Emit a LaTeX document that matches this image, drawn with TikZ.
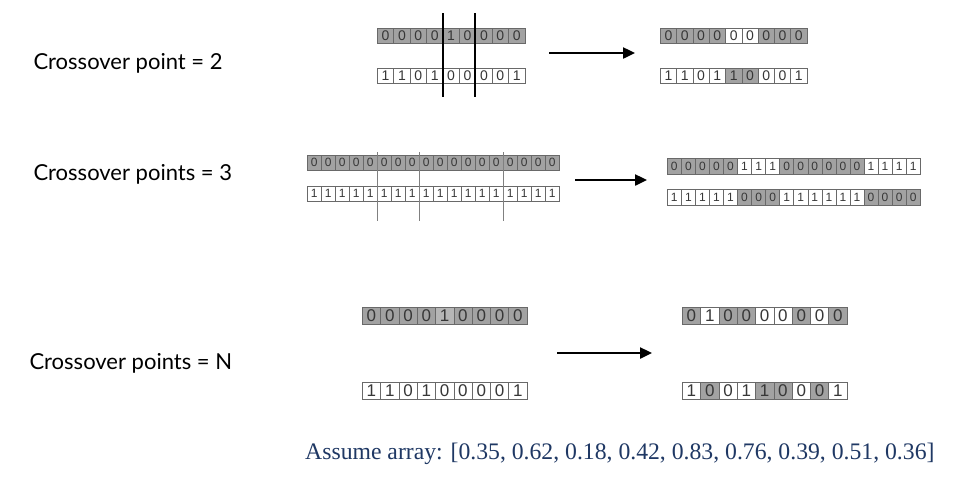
\documentclass[tikz,border=0pt]{standalone}
\usepackage{fontspec}
\setmainfont{Liberation Serif}
\setsansfont{Lato}
\newfontfamily\cellfont{Liberation Sans}
\usetikzlibrary{calc, positioning, arrows.meta}
\definecolor{dk}{RGB}{162, 162, 162}
\definecolor{md}{RGB}{182, 182, 182}
\colorlet{lt}{white}
\definecolor{geneEdge}{RGB}{105, 105, 105}
\definecolor{geneText}{RGB}{55, 55, 55}
\definecolor{noteBlue}{RGB}{31, 56, 100}

% one chromosome: name, x, y, cell width, cell height, list of bit/colour
\newcommand{\chromrow}[7][]{%
  \foreach \v/\c [count=\i] in {#7} {
    \node[gene, fill=\c, minimum width=#5pt, minimum height=#6pt, #1]
      (#2-\i) at ({#3+(\i-1)*#5}, #4) {\v};
  }}

\tikzset{
  gene/.style={draw=geneEdge, line width=0.6pt, inner sep=0pt, anchor=north west,
    font=\cellfont\fontsize{14}{14}\selectfont, text=geneText},
  caption/.style={anchor=west, font=\sffamily\fontsize{22}{26}\selectfont},
  cut/.style={line width=1.6pt, black},
  thincut/.style={line width=0.6pt, gray},
  move/.style={line width=2.4pt, -{Triangle[length=12pt, width=11pt]}}
}

\begin{document}
\begin{tikzpicture}[x=1pt, y=-1pt]
  \useasboundingbox[fill=white] (0,0) rectangle (972,491);

  % two crossover points
  \node[caption] (lab1) at (30,63) {Crossover point = 2};
  \chromrow{pa}{377}{28}{16.4}{15}{0/dk,0/dk,0/dk,0/dk,1/dk,0/dk,0/dk,0/dk,0/dk}
  \chromrow{pb}{377}{68}{16.4}{15}{1/lt,1/lt,0/lt,1/lt,0/lt,0/lt,0/lt,0/lt,1/lt}
  \draw[cut] (443,13) -- (443,97);
  \draw[cut] (475,13) -- (475,97);
  \coordinate (a1s) at (549,53);
  \coordinate (a1e) at (635,53);
  \draw[move] (a1s) -- (a1e);
  \chromrow{ca}{660}{28}{16.3}{15}{0/dk,0/dk,0/dk,0/dk,0/lt,0/lt,0/dk,0/dk,0/dk}
  \chromrow{cb}{660}{68}{16.3}{15}{1/lt,1/lt,0/lt,1/lt,1/dk,0/dk,0/lt,0/lt,1/lt}

  % three crossover points
  \node[caption] (lab2) at (30,174) {Crossover points = 3};
  \begin{scope}[gene/.append style={font=\cellfont\fontsize{12}{12}\selectfont}]
    \chromrow{pc}{307}{155}{14}{15}{0/dk,0/dk,0/dk,0/dk,0/dk,0/dk,0/dk,0/dk,0/dk,0/dk,0/dk,0/dk,0/dk,0/dk,0/dk,0/dk,0/dk,0/dk}
    \chromrow{pd}{307}{186}{14}{15}{1/lt,1/lt,1/lt,1/lt,1/lt,1/lt,1/lt,1/lt,1/lt,1/lt,1/lt,1/lt,1/lt,1/lt,1/lt,1/lt,1/lt,1/lt}
    \chromrow{cc}{667}{158}{14.05}{15.5}{0/dk,0/dk,0/dk,0/dk,0/dk,1/lt,1/lt,1/lt,0/dk,0/dk,0/dk,0/dk,0/dk,0/dk,1/lt,1/lt,1/lt,1/lt}
    \chromrow{cd}{667}{189}{14.05}{15.5}{1/lt,1/lt,1/lt,1/lt,1/lt,0/dk,0/dk,0/dk,1/lt,1/lt,1/lt,1/lt,1/lt,1/lt,0/dk,0/dk,0/dk,0/dk}
  \end{scope}
  \foreach \x in {377, 419, 503}
    \draw[thincut] (\x,152) -- (\x,221);
  \coordinate (a2s) at (575,180);
  \coordinate (a2e) at (647,180);
  \draw[move] (a2s) -- (a2e);

  % uniform crossover
  \node[caption] (lab3) at (26,363) {Crossover points = N};
  \begin{scope}[gene/.append style={font=\cellfont\fontsize{17}{17}\selectfont}]
    \chromrow{pe}{362}{307}{18.3}{17}{0/dk,0/dk,0/dk,0/dk,1/md,0/dk,0/dk,0/dk,0/dk}
    \chromrow{pf}{362}{382}{18.3}{17}{1/lt,1/lt,0/lt,1/lt,0/lt,0/lt,0/lt,0/lt,1/lt}
    \chromrow{ce}{682}{307}{18.3}{17}{0/dk,1/lt,0/dk,0/dk,0/lt,0/lt,0/dk,0/lt,0/dk}
    \chromrow{cf}{682}{382}{18.3}{17}{1/lt,0/dk,0/lt,1/lt,1/dk,0/dk,0/lt,0/dk,1/lt}
  \end{scope}
  \coordinate (a3s) at (557,353);
  \coordinate (a3e) at (652,353);
  \draw[move] (a3s) -- (a3e);

  \node[anchor=base west, text=noteBlue, font=\fontsize{23.7}{28}\selectfont, inner sep=0pt]
    (note) at (305,459) {Assume array: [0.35, 0.62, 0.18, 0.42, 0.83, 0.76, 0.39, 0.51, 0.36]};
\end{tikzpicture}
\end{document}
